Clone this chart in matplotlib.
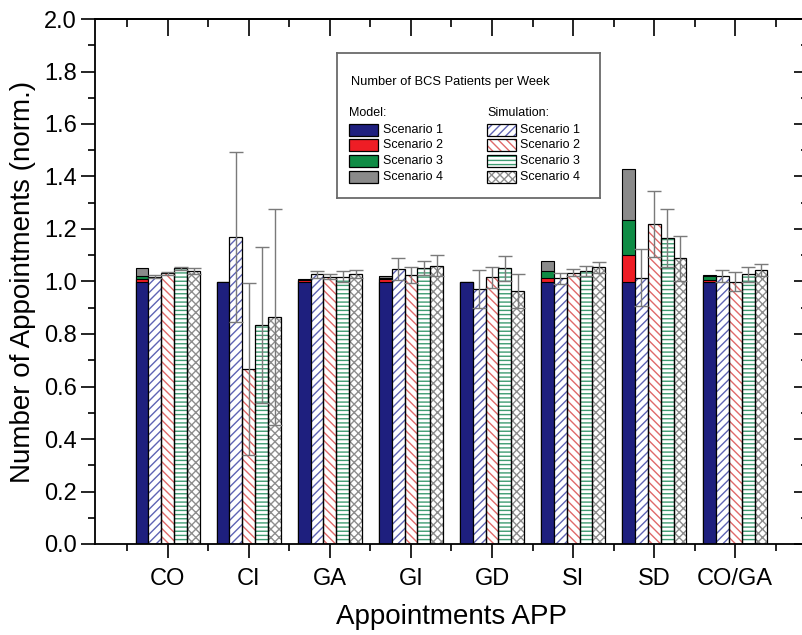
import numpy as np
import matplotlib.pyplot as plt
from matplotlib.patches import Rectangle
from matplotlib.ticker import MultipleLocator, FixedLocator

plt.rcParams['font.family'] = ['Liberation Sans', 'DejaVu Sans']
plt.rcParams['hatch.linewidth'] = 1.0

# groups of appointments
groups = ['CO', 'CI', 'GA', 'GI', 'GD', 'SI', 'SD', 'CO/GA']

# model (drawn as overlapping bars, scenario 4 at the back)
model_s1 = [1.0, 1.0, 1.0, 1.0, 1.0, 1.0, 1.0, 1.0]
model_s2 = [1.01, 1.0, 1.005, 1.01, 1.0, 1.015, 1.10, 1.005]
model_s3 = [1.02, 1.0, 1.005, 1.015, 1.0, 1.04, 1.235, 1.02]
model_s4 = [1.05, 1.0, 1.01, 1.02, 1.0, 1.08, 1.43, 1.025]

# simulation means and errors
sim_s1 = [1.018, 1.17, 1.027, 1.047, 0.972, 1.012, 1.015, 1.021]
sim_s1_err = [0.005, 0.325, 0.014, 0.043, 0.072, 0.022, 0.11, 0.023]
sim_s2 = [1.031, 0.667, 1.018, 1.025, 1.016, 1.034, 1.219, 0.999]
sim_s2_err = [0.007, 0.327, 0.01, 0.032, 0.04, 0.014, 0.126, 0.036]
sim_s3 = [1.05, 0.834, 1.018, 1.053, 1.050, 1.041, 1.166, 1.027]
sim_s3_err = [0.005, 0.297, 0.021, 0.027, 0.048, 0.019, 0.111, 0.029]
sim_s4 = [1.041, 0.865, 1.029, 1.06, 0.964, 1.054, 1.088, 1.044]
sim_s4_err = [0.012, 0.411, 0.015, 0.04, 0.065, 0.02, 0.086, 0.023]

model_colors = ['#1e1f7e', '#ee1d25', '#0f8c45', '#8a8a8a']
sim_hatch = ['////', '\\\\\\\\', '----', 'xxxx']
sim_hcolor = ['#5f64b4', '#e06a6a', '#3f9c72', '#8e8e8e']

x = np.arange(1, len(groups) + 1)
w = 0.16

fig = plt.figure(figsize=(8.02, 6.35), dpi=100)
ax = fig.add_axes([95 / 802, 1 - 544 / 635, 713 / 802, 525 / 635])

# model bars
model = [model_s1, model_s2, model_s3, model_s4]
for i in [3, 2, 1, 0]:
    ax.bar(x - 2 * w, model[i], w, color=model_colors[i], edgecolor='black',
           linewidth=0.8, zorder=2)

# simulation bars
sims = [(sim_s1, sim_s1_err), (sim_s2, sim_s2_err), (sim_s3, sim_s3_err), (sim_s4, sim_s4_err)]
for i, (vals, err) in enumerate(sims):
    pos = x + (i - 1) * w
    ax.bar(pos, vals, w, color='white', edgecolor=sim_hcolor[i], hatch=sim_hatch[i],
           linewidth=0, zorder=2)
    ax.bar(pos, vals, w, fill=False, edgecolor='black', linewidth=0.9, zorder=3)
    ax.errorbar(pos, vals, yerr=err, fmt='none', ecolor='#7a7a7a', elinewidth=1,
                capsize=5, capthick=1, zorder=4)

ax.set_xlim(0.1, 8.9)
ax.set_ylim(0, 2.0)
ax.set_xticks(x)
ax.set_xticklabels(groups)
ax.xaxis.set_minor_locator(FixedLocator(np.arange(0.5, 9, 1)))
ax.yaxis.set_major_locator(MultipleLocator(0.2))
ax.yaxis.set_minor_locator(MultipleLocator(0.1))
ax.yaxis.set_major_formatter(plt.FuncFormatter(lambda v, p: f'{v:.1f}'))
ax.tick_params(axis='both', which='major', direction='out', length=10, width=1.2,
               labelsize=17)
ax.tick_params(axis='y', which='major', pad=3)
ax.tick_params(axis='x', which='major', pad=7)
ax.tick_params(axis='both', which='minor', direction='out', length=5, width=1.2)
for s in ax.spines.values():
    s.set_linewidth(1.3)

# mirrored ticks on top and right, pointing inward
top = ax.secondary_xaxis('top')
top.set_xticks(x)
top.xaxis.set_minor_locator(FixedLocator(np.arange(0.5, 9, 1)))
top.tick_params(which='major', direction='in', length=12, width=1.2, labeltop=False)
top.tick_params(which='minor', direction='in', length=6, width=1.2)
top.spines['top'].set_linewidth(1.3)
right = ax.secondary_yaxis('right')
right.yaxis.set_major_locator(MultipleLocator(0.2))
right.yaxis.set_minor_locator(MultipleLocator(0.1))
right.tick_params(which='major', direction='in', length=10, width=1.2, labelright=False)
right.tick_params(which='minor', direction='in', length=5, width=1.2)

ax.set_ylabel('Number of Appointments (norm.)', fontsize=20, labelpad=6)
ax.set_xlabel('Appointments APP', fontsize=20, labelpad=10)

# legend box
lax = ax.inset_axes([0.339, 0.659, 0.369, 0.276])
lax.set_xlim(0, 1)
lax.set_ylim(0, 1)
lax.set_xticks([])
lax.set_yticks([])
lax.set_zorder(5)
for s in lax.spines.values():
    s.set_edgecolor('#6a6a6a')
    s.set_linewidth(1.3)
lax.text(0.053, 0.80, 'Number of BCS Patients per Week', fontsize=9.3, va='center')
lax.text(0.046, 0.586, 'Model:', fontsize=9, va='center')
lax.text(0.573, 0.586, 'Simulation:', fontsize=9, va='center')
rows = [0.469, 0.366, 0.255, 0.145]
ph = 0.083
for i, yc in enumerate(rows):
    lax.add_patch(Rectangle((0.046, yc - ph / 2), 0.111, ph, facecolor=model_colors[i],
                            edgecolor='black', linewidth=0.9))
    lax.text(0.176, yc, f'Scenario {i + 1}', fontsize=9, va='center')
    lax.add_patch(Rectangle((0.573, yc - ph / 2), 0.107, ph, facecolor='white',
                            edgecolor=sim_hcolor[i], hatch=sim_hatch[i], linewidth=0))
    lax.add_patch(Rectangle((0.573, yc - ph / 2), 0.107, ph, fill=False,
                            edgecolor='black', linewidth=0.9))
    lax.text(0.698, yc, f'Scenario {i + 1}', fontsize=9, va='center')

fig.savefig('out.png', dpi=100)
